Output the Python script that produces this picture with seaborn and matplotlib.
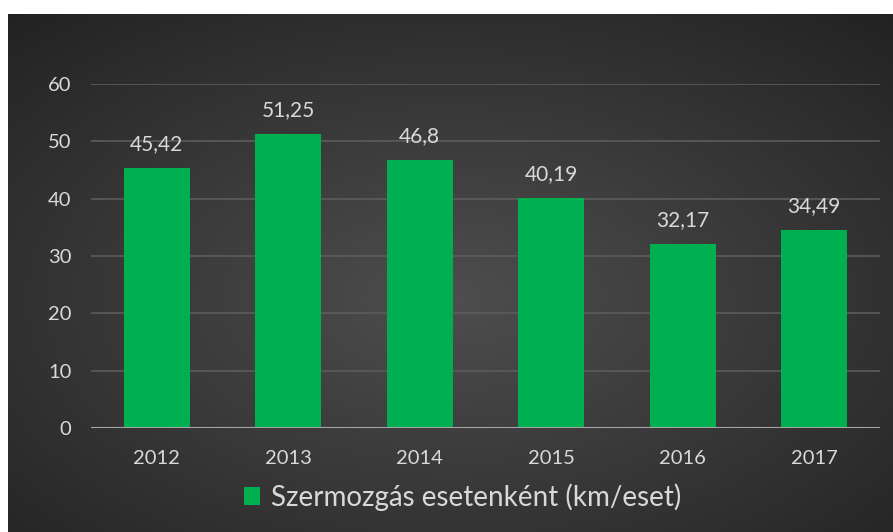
import numpy as np
import pandas as pd
import matplotlib
matplotlib.use("Agg")
import matplotlib.pyplot as plt
from matplotlib.patches import Patch
import seaborn as sns

years = ["2012", "2013", "2014", "2015", "2016", "2017"]
values = [45.42, 51.25, 46.8, 40.19, 32.17, 34.49]
value_labels = ["45,42", "51,25", "46,8", "40,19", "32,17", "34,49"]
series_name = "Szermozgás esetenként (km/eset)"

sns.set_style("dark")
plt.rcParams["font.family"] = ["Lato", "DejaVu Sans"]

green = "#00B050"
txt = "#d9d9d9"

fig = plt.figure(figsize=(8.93, 5.32), dpi=100, facecolor="white")

# dark radial-gradient background (white strip on top and left as in the reference)
bg = fig.add_axes([8 / 893, 0, 1 - 8 / 893, 1 - 14 / 532])
yy, xx = np.mgrid[0:1:300j, 0:1:500j]
r = np.sqrt(((xx - 0.5) / 0.75) ** 2 + ((yy - 0.55) / 0.75) ** 2)
r = np.clip(r, 0, 1)
light, dark = 0x4e / 255, 0x22 / 255
shade = light + (dark - light) * r
img = np.dstack([shade, shade, shade])
bg.imshow(img, aspect="auto", extent=[0, 1, 0, 1], interpolation="bilinear")
bg.set_axis_off()

ax = fig.add_axes([91 / 893, 1 - 428 / 532, (880 - 91) / 893, (428 - 84) / 532])
ax.patch.set_alpha(0)

df = pd.DataFrame({"year": years, "value": values})
sns.barplot(data=df, x="year", y="value", color=green, saturation=1, width=0.5,
            edgecolor="none", linewidth=0, ax=ax, zorder=3)

ax.set_ylim(0, 60)
ax.set_yticks(range(0, 61, 10))
ax.grid(axis="y", color="#5c5c5c", linewidth=1.2, zorder=0)
ax.grid(axis="x", visible=False)
ax.axhline(0, color="#a6a6a6", linewidth=1.5, zorder=4)
for s in ax.spines.values():
    s.set_visible(False)
ax.set_xlabel("")
ax.set_ylabel("")
ax.tick_params(axis="y", colors=txt, labelsize=14.5, length=0, pad=14)
ax.tick_params(axis="x", colors=txt, labelsize=14.5, length=0, pad=16)

for p, lab in zip(ax.patches, value_labels):
    ax.annotate(lab, (p.get_x() + p.get_width() / 2, p.get_height()),
                xytext=(0, 10), textcoords="offset points",
                ha="center", va="bottom", color=txt, fontsize=15)

handle = Patch(facecolor=green, edgecolor="none")
fig.legend([handle], [series_name], loc="center", bbox_to_anchor=(0.518, 0.066),
           frameon=False, fontsize=20, labelcolor=txt,
           handlelength=0.6, handleheight=0.6, handletextpad=0.4)

fig.savefig("out.png", dpi=100, facecolor="white")
